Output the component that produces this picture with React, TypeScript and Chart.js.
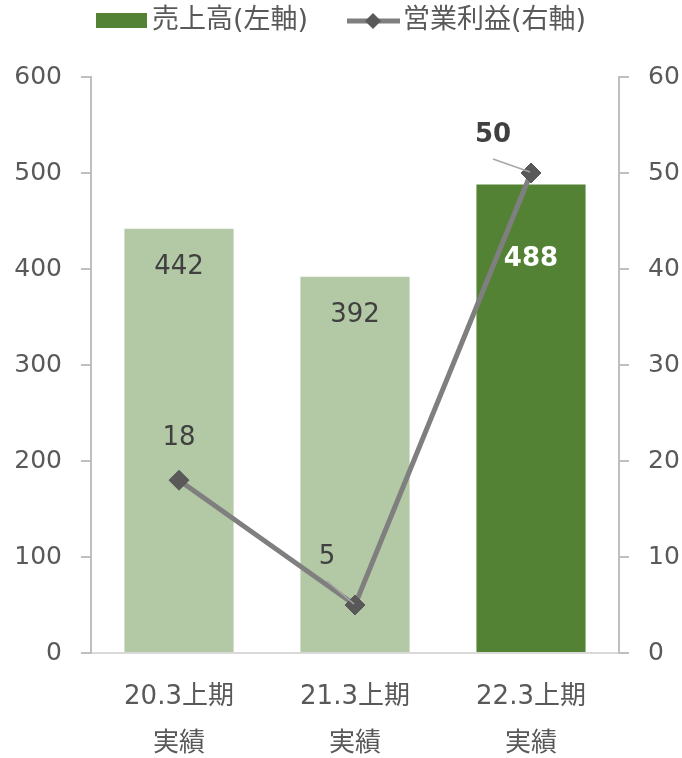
import React, { useEffect, useRef } from "react";
import { Chart, registerables } from "chart.js";

Chart.register(...registerables);

const categories: string[][] = [["20.3上期", "実績"], ["21.3上期", "実績"], ["22.3上期", "実績"]];
const salesValues: number[] = [442, 392, 488];
const profitValues: number[] = [18, 5, 50];
const salesColors: string[] = ["#b3c8a4", "#b3c8a4", "#548235"];
const leftTicks: number[] = [0, 100, 200, 300, 400, 500, 600];
const rightTicks: number[] = [0, 10, 20, 30, 40, 50, 60];
const salesLegend = "売上高(左軸)";
const profitLegend = "営業利益(右軸)";

const FONT = '"DejaVu Sans", "Noto Sans CJK JP", sans-serif';
const TEXT = "#595959";

const labelPlugin = {
  id: "customLabels",
  afterDatasetsDraw(chart: any) {
    const ctx = chart.ctx;
    ctx.save();
    ctx.textAlign = "center";
    ctx.textBaseline = "middle";
    // bar labels
    const barMeta = chart.getDatasetMeta(1);
    barMeta.data.forEach((el: any, i: number) => {
      const last = i === salesValues.length - 1;
      ctx.font = `${last ? "bold " : ""}26px ${FONT}`;
      ctx.fillStyle = last ? "#ffffff" : "#404040";
      const dy = last ? 75 : 39;
      ctx.fillText(String(salesValues[i]), el.x, el.y + dy);
    });
    // line labels
    const lineMeta = chart.getDatasetMeta(0);
    const offs = [
      { dx: 0, dy: -42, lead: null },
      { dx: -28, dy: -48, lead: [-28, -24] },
      { dx: -38, dy: -38, lead: [-38, -14] },
    ];
    lineMeta.data.forEach((el: any, i: number) => {
      const o = offs[i];
      if (o.lead) {
        ctx.strokeStyle = "#a6a6a6";
        ctx.lineWidth = 1.5;
        ctx.beginPath();
        ctx.moveTo(el.x + o.lead[0], el.y + o.lead[1]);
        ctx.lineTo(el.x - 1, el.y - 1);
        ctx.stroke();
      }
      const last = i === profitValues.length - 1;
      ctx.font = `${last ? "bold " : ""}26px ${FONT}`;
      ctx.fillStyle = "#404040";
      ctx.fillText(String(profitValues[i]), el.x + o.dx, el.y + o.dy);
    });
    ctx.restore();
  },
  afterDraw(chart: any) {
    const ctx = chart.ctx;
    ctx.save();
    ctx.font = `27px ${FONT}`;
    ctx.textBaseline = "middle";
    ctx.textAlign = "left";
    ctx.fillStyle = "#548235";
    ctx.fillRect(96, 13, 51, 15);
    ctx.fillStyle = TEXT;
    ctx.fillText(salesLegend, 152, 21);
    ctx.strokeStyle = "#7f7f7f";
    ctx.lineWidth = 5;
    ctx.beginPath();
    ctx.moveTo(347, 21);
    ctx.lineTo(400, 21);
    ctx.stroke();
    ctx.fillStyle = "#595959";
    ctx.beginPath();
    ctx.moveTo(365, 21);
    ctx.lineTo(373, 13);
    ctx.lineTo(381, 21);
    ctx.lineTo(373, 29);
    ctx.closePath();
    ctx.fill();
    ctx.fillStyle = TEXT;
    ctx.fillText(profitLegend, 403, 21);
    ctx.restore();
  },
};

export default function App() {
  const ref = useRef<HTMLCanvasElement>(null);
  useEffect(() => {
    if (!ref.current) return;
    const chart = new Chart(ref.current, {
      type: "bar",
      data: {
        labels: categories,
        datasets: [
          {
            type: "line",
            label: profitLegend,
            data: profitValues,
            yAxisID: "y1",
            borderColor: "#7f7f7f",
            borderWidth: 5,
            pointStyle: "rectRot",
            pointRadius: 10,
            pointBackgroundColor: "#595959",
            pointBorderColor: "#595959",
            pointBorderWidth: 1,
            order: 0,
          } as any,
          {
            type: "bar",
            label: salesLegend,
            data: salesValues,
            yAxisID: "y",
            backgroundColor: salesColors,
            categoryPercentage: 1,
            barPercentage: 0.62,
            order: 1,
          },
        ],
      },
      options: {
        responsive: false,
        animation: false,
        layout: { padding: { top: 77, left: 0, right: 0, bottom: 0 } },
        plugins: { legend: { display: false }, tooltip: { enabled: false } },
        scales: {
          x: {
            grid: { display: true, drawOnChartArea: false, drawTicks: false, color: "rgba(0,0,0,0)" },
            border: { color: "#d9d9d9", width: 2 },
            ticks: {
              color: TEXT,
              padding: 20,
              font: { family: FONT, size: 26, lineHeight: 1.83 },
              maxRotation: 0,
              autoSkip: false,
            },
            afterFit: (s: any) => { s.height = 105; },
          },
          y: {
            position: "left",
            min: 0,
            max: 600,
            afterBuildTicks: (s: any) => { s.ticks = leftTicks.map((v) => ({ value: v })); },
            grid: { drawOnChartArea: false, tickLength: 10, color: "#bfbfbf", lineWidth: 2 },
            border: { color: "#bfbfbf", width: 2 },
            ticks: { color: TEXT, padding: 19, font: { family: FONT, size: 25 } },
            afterFit: (s: any) => { s.width = 91; },
          },
          y1: {
            position: "right",
            min: 0,
            max: 60,
            afterBuildTicks: (s: any) => { s.ticks = rightTicks.map((v) => ({ value: v })); },
            grid: { drawOnChartArea: false, tickLength: 10, color: "#bfbfbf", lineWidth: 2 },
            border: { color: "#bfbfbf", width: 2 },
            ticks: { color: TEXT, padding: 19, font: { family: FONT, size: 25 } },
            afterFit: (s: any) => { s.width = 63; },
          },
        },
      },
      plugins: [labelPlugin],
    });
    return () => chart.destroy();
  }, []);
  return (
    <div style={{ position: "fixed", left: 0, top: 0, width: 682, height: 758, background: "#fff" }}>
      <canvas ref={ref} width={682} height={758} />
    </div>
  );
}
